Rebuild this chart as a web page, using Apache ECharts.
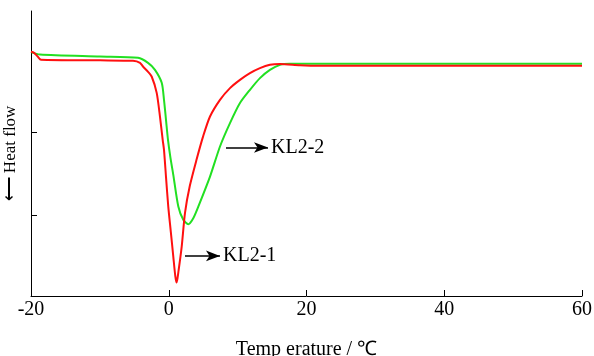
<!DOCTYPE html>
<html>
<head>
<meta charset="utf-8">
<script src="https://cdn.jsdelivr.net/npm/echarts@6/dist/echarts.min.js"></script>
<style>
  html, body { margin: 0; padding: 0; background: #fff; }
  #chart { width: 594px; height: 356px; }
</style>
</head>
<body>
<div id="chart"></div>
<script>
// temperature (℃) / heat flow (arb. units)
const kl21Temp = [-20, -19.56, -19.03, -18.55, -9.98, -5.19, -4.17, -3.74, -3.0, -2.48, -1.75, -1.27, -0.88, -0.69, -0.4, -0.07, 0.3, 0.66, 0.95, 1.15, 1.4, 1.88, 2.36, 3.06, 4.03, 5.0, 5.99, 7.44, 8.89, 10.34, 11.79, 13.24, 14.69, 16.15, 19.06, 21.96, 60];
const kl21Flow = [2.96, 2.948, 2.904, 2.865, 2.858, 2.852, 2.828, 2.784, 2.72, 2.664, 2.468, 2.18, 1.904, 1.784, 1.46, 1.103, 0.8, 0.503, 0.27, 0.191, 0.32, 0.623, 1.028, 1.352, 1.664, 1.948, 2.184, 2.384, 2.525, 2.624, 2.705, 2.765, 2.804, 2.813, 2.798, 2.792, 2.792];

const kl22Temp = [-20, -18.69, -9.98, -4.46, -3.01, -2.0, -1.02, -0.69, -0.4, -0.11, 0.25, 0.66, 1.39, 2.11, 2.84, 3.56, 4.29, 5.99, 7.44, 8.89, 10.34, 11.79, 13.24, 14.69, 16.15, 17.6, 60];
const kl22Flow = [2.957, 2.928, 2.904, 2.888, 2.828, 2.744, 2.588, 2.384, 2.144, 1.904, 1.688, 1.484, 1.103, 0.944, 0.892, 0.964, 1.103, 1.463, 1.824, 2.104, 2.345, 2.504, 2.645, 2.744, 2.804, 2.816, 2.816];

// annotation arrows: [fromTemp, toTemp, flow]
const kl21Arrow = [2.36, 7.44, 0.511];
const kl22Arrow = [8.31, 14.41, 1.812];

const xTicks = [-20, 60, 20];
const yTicks = [1, 2];

const zip = (xs, ys) => xs.map((x, i) => [x, ys[i]]);

const serif = 'Liberation Serif, Times New Roman, serif';

const arrowMark = (a, name) => ({
  silent: true,
  animation: false,
  symbol: ['none', 'arrow'],
  symbolSize: [8, 14],
  lineStyle: { color: '#000', width: 1.5, type: 'solid' },
  label: {
    show: true,
    position: 'end',
    distance: 3,
    formatter: name,
    color: '#000',
    fontFamily: serif,
    fontSize: 20,
  },
  data: [[{ coord: [a[0], a[2]] }, { coord: [a[1], a[2]] }]],
});

const chart = echarts.init(document.getElementById('chart'));
chart.setOption({
  animation: false,
  grid: { left: 31, right: 12, top: 11, bottom: 60, outerBoundsMode: 'none', containLabel: false },
  xAxis: {
    type: 'value',
    min: xTicks[0],
    max: xTicks[1],
    interval: xTicks[2],
    name: 'Temp erature / ℃',
    nameLocation: 'middle',
    nameGap: 44,
    nameTextStyle: { color: '#000', fontFamily: serif, fontSize: 20 },
    axisLine: { onZero: false, lineStyle: { color: '#000', width: 1 } },
    axisTick: { inside: true, length: 6, lineStyle: { color: '#000' } },
    axisLabel: { color: '#000', fontFamily: serif, fontSize: 20, margin: 4 },
    splitLine: { show: false },
  },
  yAxis: {
    type: 'value',
    min: 0.03,
    max: 3.45,
    name: '⟵ Heat flow',
    nameLocation: 'middle',
    nameRotate: 90,
    nameGap: 12,
    nameTextStyle: { color: '#000', fontFamily: serif, fontSize: 17 },
    axisLine: { show: true, onZero: false, lineStyle: { color: '#000', width: 1 } },
    axisTick: { show: true, inside: true, length: 6, customValues: yTicks, lineStyle: { color: '#000' } },
    axisLabel: { show: false },
    splitLine: { show: false },
  },
  series: [
    {
      name: 'KL2-2',
      type: 'line',
      data: zip(kl22Temp, kl22Flow),
      showSymbol: false,
      smooth: 0.25,
      lineStyle: { color: '#22e022', width: 2 },
      markLine: arrowMark(kl22Arrow, 'KL2-2'),
    },
    {
      name: 'KL2-1',
      type: 'line',
      data: zip(kl21Temp, kl21Flow),
      showSymbol: false,
      smooth: 0.25,
      lineStyle: { color: '#ff1010', width: 2 },
      markLine: arrowMark(kl21Arrow, 'KL2-1'),
    },
  ],
});
</script>
</body>
</html>
